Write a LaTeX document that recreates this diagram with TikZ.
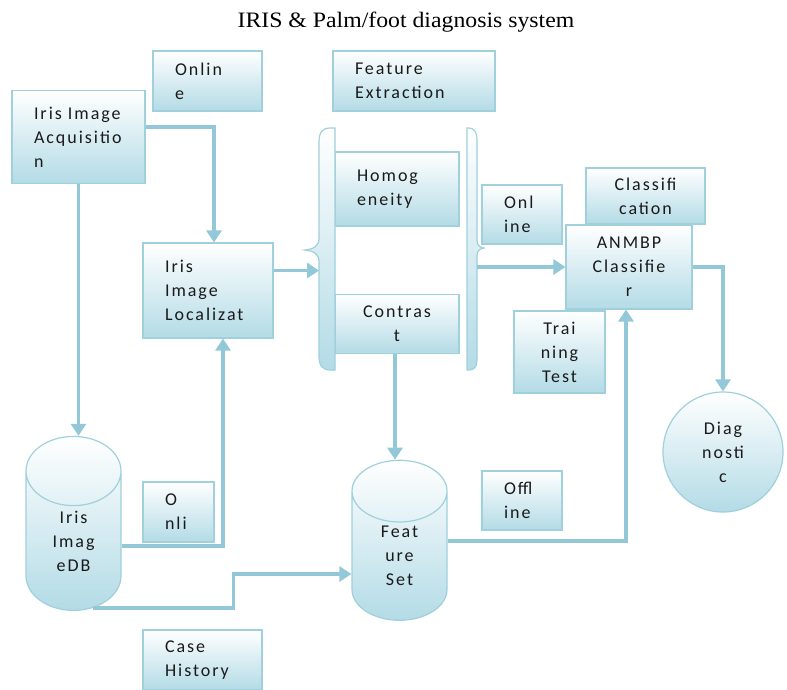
\documentclass[tikz,border=0pt]{standalone}
\usepackage{fontspec}
\setmainfont{Liberation Serif}[FakeStretch=1.08]
\newfontfamily\boxfont{Carlito}[LetterSpace=11]
\usepackage{tikz}
\usetikzlibrary{arrows.meta, shapes.geometric, calc}
\definecolor{boxedge}{HTML}{9FD0DC}
\definecolor{boxfill}{HTML}{B3DBE6}
\definecolor{linkc}{HTML}{92C8D7}
\definecolor{txt}{HTML}{1A1A1A}
\tikzset{block/.style={draw=boxedge, line width=1.2pt, top color=white, bottom color=boxfill,
        font=\boxfont\fontsize{18}{24}\selectfont, text=txt, inner xsep=22pt, inner ysep=2pt, align=left},
    cblock/.style={block, inner xsep=8pt, align=center},
    dbase/.style={cylinder, shape border rotate=90, aspect=1.65, draw=boxedge, line width=1.2pt,
        top color=white, bottom color=boxfill, font=\boxfont\fontsize{18}{24}\selectfont, text=txt,
        align=center, inner sep=0pt},
    brace/.style={draw=boxedge, line width=1.2pt, top color=white, bottom color=boxfill},
    line/.style={draw=linkc, line width=3.2pt, -{Triangle[length=12pt,width=15pt]}}
}

\begin{document}
\begin{tikzpicture}[x=1pt,y=-1pt]
\useasboundingbox (0,0) rectangle (787,689);
\node[font=\fontsize{22}{26}\selectfont] (title) at (406,22) {IRIS \& Palm/foot diagnosis system};
% blocks
\node[block,text width=65pt,minimum height=60pt] (onA) at (207.5,81) {Onlin\\e};
\node[block,text width=89pt,minimum height=93pt] (acq) at (78.5,137) {Iris Image\\Acquisitio\\n};
\node[block,text width=118pt,minimum height=60pt] (featx) at (414,81) {Feature\\Extraction};
\node[block,text width=80pt,minimum height=74pt] (homog) at (397,189) {Homog\\eneity};
\node[cblock,text width=108pt,minimum height=59pt] (contr) at (397,324) {Contras\\t};
\node[block,text width=86pt,minimum height=95pt] (loc) at (208,290.5) {Iris\\Image\\Localizat};
\node[block,text width=36pt,minimum height=59pt] (onB) at (522,214.5) {Onl\\ine};
\node[cblock,text width=103pt,minimum height=56pt] (clsf) at (645.5,196) {Classifi\\cation};
\node[cblock,text width=110pt,minimum height=84pt] (anmbp) at (629,267) {ANMBP\\Classifie\\r};
\node[cblock,text width=75pt,minimum height=82pt] (train) at (559.5,352) {Trai\\ning\\Test};
\node[block,text width=36pt,minimum height=59pt] (offl) at (522,500.5) {Offl\\ine};
\node[block,text width=27pt,minimum height=60pt] (onC) at (178.5,512) {O\\nli};
\node[block,text width=75pt,minimum height=60pt] (caseh) at (202.5,660) {Case\\History};
\node[cblock,circle,minimum size=120pt,inner sep=0pt] (diag) at (723,452) {Diag\\nosti\\c};
\node[dbase,minimum width=95pt,minimum height=174pt] (irisdb) at (73.5,541) {Iris\\Imag\\eDB};
\node[dbase,minimum width=95pt,minimum height=160pt] (featset) at (399.5,556) {Feat\\ure\\Set};
% braces round the features
\path[brace] (335,128) -- (330,128) .. controls (322,128) and (319,133) .. (319,142) -- (319,238)
  .. controls (319,246) and (314,249) .. (305,250) .. controls (314,251) and (319,254) .. (319,262)
  -- (319,356) .. controls (319,365) and (322,370) .. (330,370) -- (335,370) -- cycle;
\path[brace] (467,128) -- (469,128) .. controls (474,128) and (477,132) .. (477,140) -- (477,240)
  .. controls (477,245) and (479,247) .. (484,248) .. controls (479,249) and (477,251) .. (477,256)
  -- (477,360) .. controls (477,367) and (474,370) .. (469,370) -- (467,370) -- cycle;
\coordinate (brL) at (319,270.5);
\coordinate (brR) at (477,267);
% connectors
\draw[line] (acq.south) -- (acq.south |- irisdb.north);
\draw[line] ([yshift=10pt]acq.east) -| ([xshift=6pt]loc.north);
\draw[line] ([yshift=-5pt]irisdb.east) -| ([xshift=15pt]loc.south);
\draw[line] ([xshift=19pt,yshift=3pt]irisdb.south) -- ([xshift=19pt,yshift=3pt]irisdb.south -| onC.east) |- ([yshift=-18pt]featset.west);
\draw[line] (loc.east |- brL) -- (brL);
\draw[line] ([xshift=-2pt]contr.south) -- ([xshift=-2pt]contr.south |- featset.north);
\draw[line] (brR) -- (anmbp.west);
\draw[line] ([yshift=15pt]featset.east) -| ([xshift=-3pt]anmbp.south);
\draw[line] (anmbp.east) -| (diag.north);
\end{tikzpicture}
\end{document}
